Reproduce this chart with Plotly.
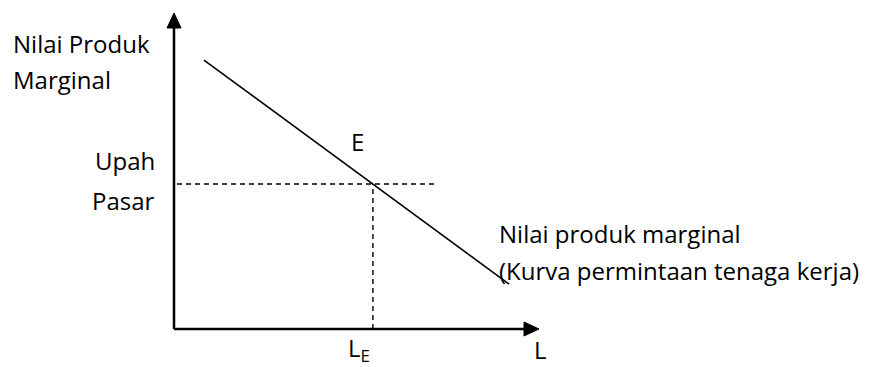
import plotly.graph_objects as go

# ---- data (economic diagram, arbitrary units) ----
x_max = 10.0          # length of L axis
y_max = 10.0          # length of value axis

demand_x = [0.82, 9.18]   # value of marginal product curve
demand_y = [8.51, 1.42]

L_E = 5.45            # equilibrium labour
wage = 4.59           # market wage
wage_line_end = 7.2

label_text = ["Nilai Produk", "Marginal", "Upah", "Pasar", "E",
              "Nilai produk marginal", "(Kurva permintaan tenaga kerja)",
              "L<sub>E</sub>", "L"]
label_x = [-4.46, -4.46, -0.47, -0.47, 5.04, 8.85, 8.85, 4.71, 9.81]
label_y = [9.05, 7.88, 5.32, 4.08, 5.92, 3.01, 1.84, -0.62, -0.64]
label_anchor = ["left", "left", "right", "right", "center", "left", "left", "left", "left"]

# ---- layout helpers (pixel geometry of the drawing) ----
W, H = 885, 367
OFF = 8                      # page body margin
px_per_x = 36.5
px_per_y = 31.6
origin_px = (174, 329)       # axis crossing in page pixels

def xr(px):
    return (px - origin_px[0]) / px_per_x

def yr(py):
    return (origin_px[1] - py) / px_per_y

FONT = "Open Sans"
FS = 24

fig = go.Figure()

# axis lines
fig.add_trace(go.Scatter(x=[0, 0], y=[0, y_max - 12 / px_per_y], mode="lines",
                         line=dict(color="black", width=2.5), hoverinfo="skip"))
fig.add_trace(go.Scatter(x=[0, x_max - 12 / px_per_x], y=[0, 0], mode="lines",
                         line=dict(color="black", width=2.5), hoverinfo="skip"))
# arrowheads (14px wide, 15px long)
hw_x, hl_y = 7 / px_per_x, 15 / px_per_y
fig.add_trace(go.Scatter(x=[-hw_x, hw_x, 0, -hw_x], y=[y_max - hl_y, y_max - hl_y, y_max, y_max - hl_y],
                         mode="lines", fill="toself", fillcolor="black",
                         line=dict(color="black", width=1), hoverinfo="skip"))
hw_y, hl_x = 7 / px_per_y, 15 / px_per_x
fig.add_trace(go.Scatter(x=[x_max - hl_x, x_max - hl_x, x_max, x_max - hl_x], y=[-hw_y, hw_y, 0, -hw_y],
                         mode="lines", fill="toself", fillcolor="black",
                         line=dict(color="black", width=1), hoverinfo="skip"))

# demand line
fig.add_trace(go.Scatter(x=demand_x, y=demand_y, mode="lines",
                         line=dict(color="black", width=1.6), hoverinfo="skip"))

# dashed guides
fig.add_trace(go.Scatter(x=[3 / px_per_x, wage_line_end], y=[wage, wage], mode="lines",
                         line=dict(color="black", width=1.4, dash="5px,4px"), hoverinfo="skip"))
fig.add_trace(go.Scatter(x=[L_E, L_E], y=[0, wage], mode="lines",
                         line=dict(color="black", width=1.4, dash="5px,4px"), hoverinfo="skip"))

for txt, x, y, anc in zip(label_text, label_x, label_y, label_anchor):
    fig.add_annotation(x=x, y=y, xref="x", yref="y", text=txt, showarrow=False,
                       xanchor=anc, yanchor="middle",
                       font=dict(family=FONT, size=FS, color="black"))

fig.update_layout(
    width=W - OFF, height=H - OFF,
    margin=dict(l=0, r=0, t=0, b=0, pad=0),
    paper_bgcolor="white", plot_bgcolor="white",
    showlegend=False,
    xaxis=dict(range=[xr(OFF), xr(W)], visible=False, fixedrange=True),
    yaxis=dict(range=[yr(H), yr(OFF)], visible=False, fixedrange=True),
)

fig.write_html("out.html")
